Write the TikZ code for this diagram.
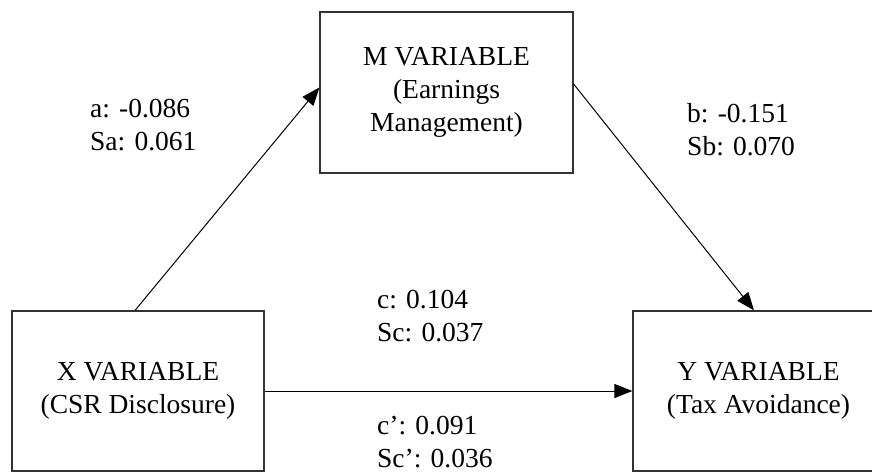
\documentclass[tikz,border=0pt]{standalone}
\usepackage{fontspec}
\setmainfont{Liberation Serif}
\usetikzlibrary{arrows.meta}
\begin{document}
\begin{tikzpicture}[x=1pt,y=-1pt,
  box/.style={draw=black!80, line width=1.2pt, inner sep=0pt, align=center,
    font=\fontsize{27.5}{33}\selectfont},
  lbl/.style={align=left, anchor=base west, inner sep=0pt,
    font=\fontsize{27.5}{33}\selectfont},
  arr/.style={-{Triangle[length=18pt,width=14pt]}, line width=1pt}]
\useasboundingbox (0,0) rectangle (872,472);
\clip (0,0) rectangle (872,472);
\node[box, minimum width=253pt, minimum height=161pt] (M) at (446.5,92.5)
  {M VARIABLE\\(Earnings\\Management)};
\node[box, minimum width=252pt, minimum height=160pt] (X) at (138,391)
  {X VARIABLE\\(CSR Disclosure)};
\node[box, minimum width=251pt, minimum height=160pt] (Y) at (758.5,391)
  {Y VARIABLE\\(Tax Avoidance)};
\draw[arr] ([xshift=-3pt]X.north) -- ([yshift=5pt]M.west);
\draw[arr] ([yshift=8.5pt]M.east) -- ([xshift=-4.5pt]Y.north);
\draw[arr] (X.east) -- (Y.west);
\node[lbl] (la) at (90,150) {a: -0.086\\Sa: 0.061};
\node[lbl] (lb) at (687,155) {b: -0.151\\Sb: 0.070};
\node[lbl] (lc) at (377,341) {c: 0.104\\Sc: 0.037};
\node[lbl] (ld) at (377,467) {c’: 0.091\\Sc’: 0.036};
\end{tikzpicture}
\end{document}
